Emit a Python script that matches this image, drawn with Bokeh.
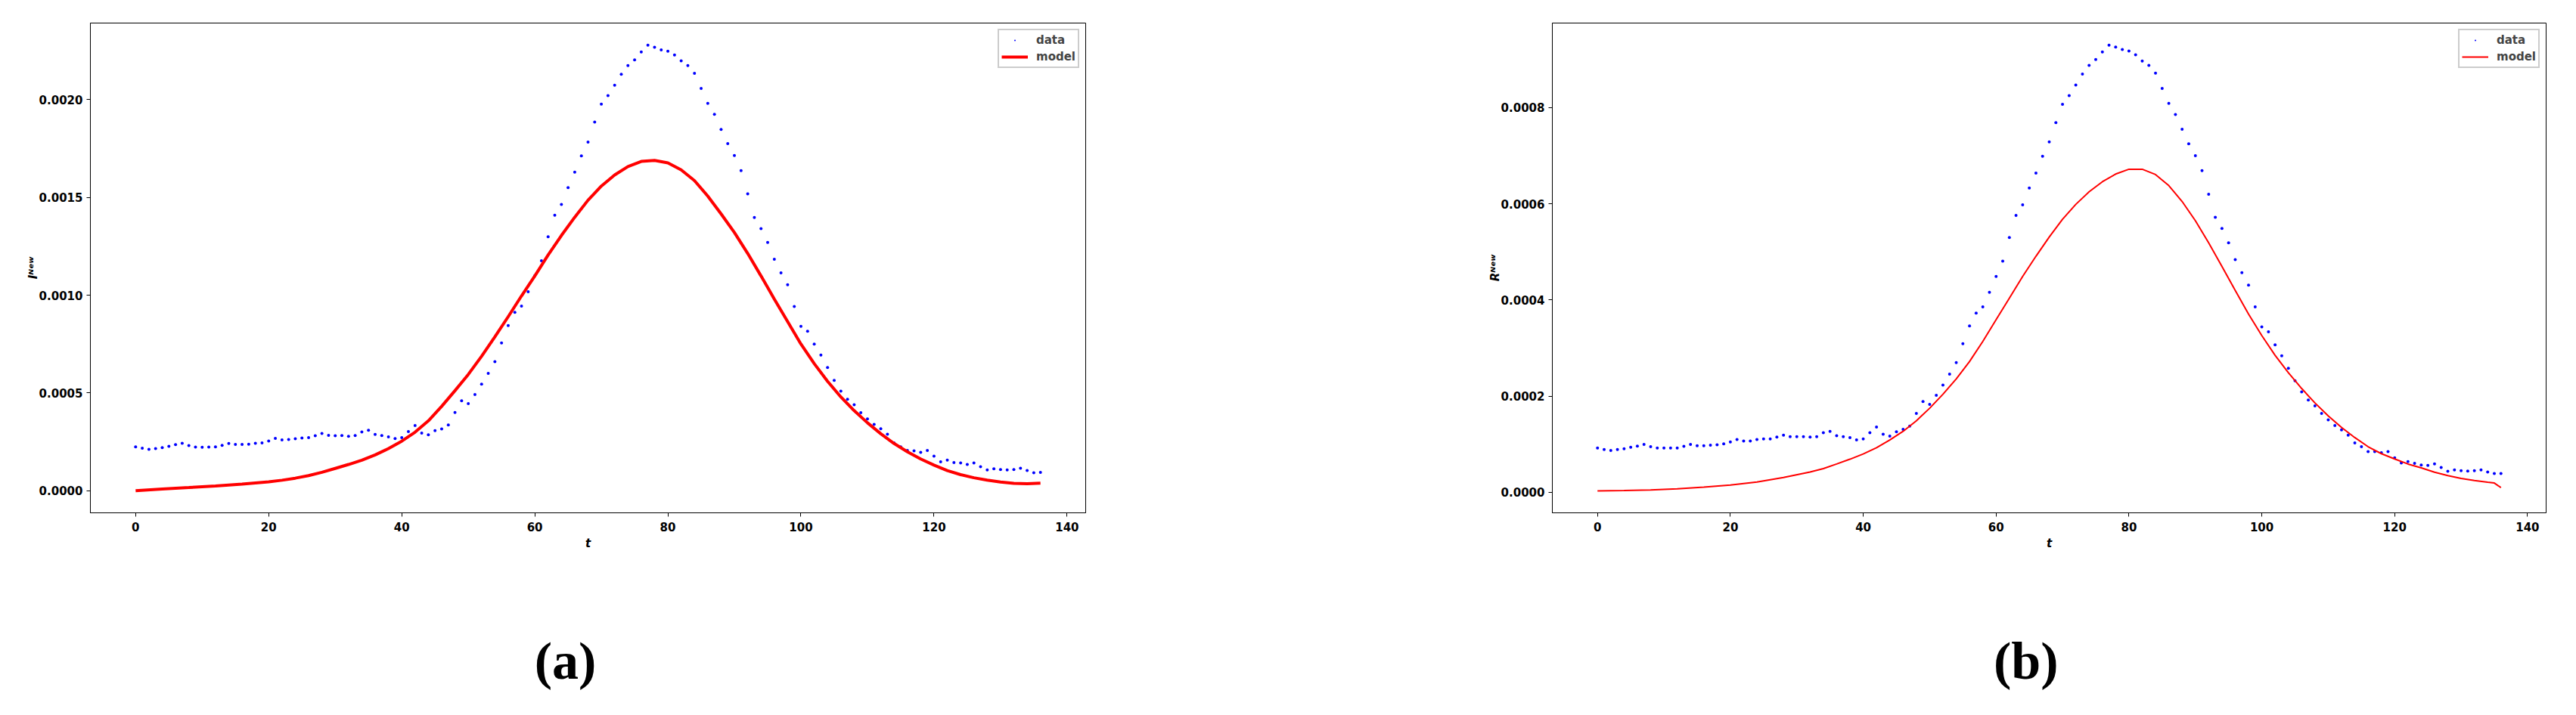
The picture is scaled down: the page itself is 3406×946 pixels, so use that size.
from bokeh.plotting import figure
from bokeh.models import (Range1d, FixedTicker, PrintfTickFormatter,
                          Legend, LegendItem)
from bokeh.layouts import row, column
from bokeh.core.properties import value
from bokeh.embed import file_html
from bokeh.resources import INLINE

# ---------------- data ----------------
t_days = list(range(137))

I_data = [
    0.000225, 0.000218, 0.000212, 0.000216, 0.000221, 0.000228, 0.000236, 0.000243, 0.000232, 0.000224,
    0.000223, 0.000224, 0.000225, 0.000233, 0.000242, 0.000237, 0.000237, 0.000238, 0.000243, 0.000245,
    0.000255, 0.000268, 0.000261, 0.000263, 0.000266, 0.000270, 0.000272, 0.000282, 0.000293, 0.000284,
    0.000282, 0.000283, 0.000279, 0.000283, 0.000301, 0.000310, 0.000289, 0.000283, 0.000276, 0.000267,
    0.000272, 0.000303, 0.000334, 0.000295, 0.000287, 0.000308, 0.000317, 0.000337, 0.000401, 0.000460,
    0.000446, 0.000492, 0.000545, 0.000600, 0.000660, 0.000756, 0.000845, 0.000912, 0.000944, 0.001017,
    0.001099, 0.001176, 0.001298, 0.001408, 0.001463, 0.001549, 0.001628, 0.001711, 0.001782, 0.001884,
    0.001976, 0.002019, 0.002072, 0.002128, 0.002173, 0.002202, 0.002242, 0.002277, 0.002266, 0.002253,
    0.002246, 0.002227, 0.002197, 0.002173, 0.002133, 0.002056, 0.001980, 0.001924, 0.001847, 0.001774,
    0.001713, 0.001636, 0.001517, 0.001397, 0.001340, 0.001269, 0.001183, 0.001114, 0.001053, 0.000942,
    0.000841, 0.000816, 0.000750, 0.000694, 0.000630, 0.000565, 0.000510, 0.000468, 0.000440, 0.000400,
    0.000368, 0.000340, 0.000318, 0.000290, 0.000245, 0.000225, 0.000207, 0.000205, 0.000197, 0.000207,
    0.000178, 0.000149, 0.000157, 0.000145, 0.000143, 0.000135, 0.000143, 0.000124, 0.000107, 0.000113,
    0.000109, 0.000107, 0.000109, 0.000116, 0.000104, 0.000093, 0.000095,
]

R_data = [
    0.0000923, 0.0000891, 0.0000870, 0.0000891, 0.0000907, 0.0000938, 0.0000964, 0.0000996, 0.0000949, 0.0000923,
    0.0000923, 0.0000923, 0.0000923, 0.0000959, 0.0000996, 0.0000970, 0.0000970, 0.0000980, 0.0000991, 0.000101,
    0.000105, 0.000110, 0.000107, 0.000107, 0.000110, 0.000111, 0.000111, 0.000115, 0.000119, 0.000116,
    0.000116, 0.000116, 0.000115, 0.000116, 0.000124, 0.000127, 0.000118, 0.000116, 0.000114, 0.000109,
    0.000111, 0.000124, 0.000136, 0.000121, 0.000117, 0.000126, 0.000131, 0.000138, 0.000164, 0.000189,
    0.000183, 0.000202, 0.000223, 0.000246, 0.000270, 0.000309, 0.000346, 0.000373, 0.000386, 0.000416,
    0.000449, 0.000481, 0.000530, 0.000576, 0.000598, 0.000633, 0.000664, 0.000699, 0.000729, 0.000769,
    0.000807, 0.000825, 0.000847, 0.000870, 0.000888, 0.000900, 0.000916, 0.000930, 0.000926, 0.000921,
    0.000918, 0.000910, 0.000897, 0.000888, 0.000872, 0.000840, 0.000809, 0.000786, 0.000755, 0.000725,
    0.000700, 0.000669, 0.000620, 0.000572, 0.000549, 0.000519, 0.000484, 0.000457, 0.000431, 0.000386,
    0.000344, 0.000334, 0.000307, 0.000284, 0.000258, 0.000232, 0.000209, 0.000192, 0.000180, 0.000164,
    0.000151, 0.000139, 0.000130, 0.000119, 0.000103, 0.0000950, 0.0000849, 0.0000849, 0.0000823, 0.0000849,
    0.0000718, 0.0000613, 0.0000639, 0.0000603, 0.0000571, 0.0000561, 0.0000592, 0.0000519, 0.0000440, 0.0000467,
    0.0000451, 0.0000445, 0.0000451, 0.0000467, 0.0000425, 0.0000393, 0.0000393,
]

I_model_t = [0, 4, 8, 12, 16, 20, 22, 24, 26, 28, 30, 32, 34, 36, 38, 40, 42, 44, 46, 48, 50, 52,
             54, 56, 58, 60, 62, 64, 66, 68, 70, 72, 74, 76, 78, 80, 82, 84, 86, 88, 90, 92, 94,
             96, 98, 100, 102, 104, 106, 108, 110, 112, 114, 116, 118, 120, 122, 124, 126, 128,
             130, 132, 134, 136]
I_model = [0.0000010, 0.0000100, 0.0000170, 0.0000255, 0.0000350, 0.0000460, 0.0000545, 0.0000650,
           0.0000780, 0.0000950, 0.000115, 0.000135, 0.000157, 0.000184, 0.000216, 0.000254,
           0.000300, 0.000358, 0.000432, 0.000512, 0.000595, 0.000688, 0.000787, 0.000890,
           0.000996, 0.001098, 0.001205, 0.001305, 0.001398, 0.001485, 0.001557, 0.001614,
           0.001657, 0.001683, 0.001688, 0.001676, 0.001640, 0.001585, 0.001506, 0.001415,
           0.001320, 0.001213, 0.001098, 0.000980, 0.000865, 0.000750, 0.000650, 0.000560,
           0.000480, 0.000410, 0.000348, 0.000292, 0.000242, 0.000200, 0.000163, 0.000132,
           0.000104, 0.0000830, 0.0000670, 0.0000550, 0.0000455, 0.0000385, 0.0000370, 0.0000399]

R_model_t = [0, 4, 8, 12, 16, 20, 24, 28, 32, 34, 36, 38, 40, 42, 44, 46, 48, 50, 52, 54, 56, 58,
             60, 62, 64, 66, 68, 70, 72, 74, 76, 78, 80, 82, 84, 86, 88, 90, 92, 94, 96, 98, 100,
             102, 104, 106, 108, 110, 112, 114, 116, 118, 120, 122, 124, 126, 128, 130, 132, 134,
             135, 136]
R_model = [0.0000030, 0.0000038, 0.0000052, 0.0000075, 0.0000110, 0.0000152, 0.0000215, 0.0000310,
           0.0000425, 0.0000495, 0.0000590, 0.0000690, 0.0000800, 0.0000930, 0.000109, 0.000127,
           0.000149, 0.000175, 0.000204, 0.000236, 0.000272, 0.000314, 0.000359, 0.000404,
           0.000449, 0.000491, 0.000531, 0.000568, 0.000599, 0.000625, 0.000646, 0.000662,
           0.000672, 0.000672, 0.000661, 0.000638, 0.000605, 0.000565, 0.000519, 0.000470,
           0.000420, 0.000371, 0.000326, 0.000285, 0.000249, 0.000216, 0.000186, 0.000159,
           0.000135, 0.000114, 0.0000950, 0.0000805, 0.0000695, 0.0000590, 0.0000510, 0.0000420,
           0.0000350, 0.0000290, 0.0000247, 0.0000210, 0.0000194, 0.0000099]

x_ticks = [0, 20, 40, 60, 80, 100, 120, 140]
I_ticks = [0.0, 0.0005, 0.0010, 0.0015, 0.0020]
R_ticks = [0.0, 0.0002, 0.0004, 0.0006, 0.0008]
panel_names = ["(a)", "(b)"]

TICK_FONT = "DejaVu Sans"
MAIN_H = 778
CAP_H = 152


def make_panel(width, border_left, border_right, y_lo, y_hi, y_ticks, ylabel,
               data, model_t, model, model_width):
    p = figure(width=width, height=MAIN_H, output_backend="svg", toolbar_location=None,
               x_range=Range1d(-6.8, 142.8), y_range=Range1d(y_lo, y_hi),
               min_border_left=border_left, min_border_right=border_right,
               min_border_top=30, min_border_bottom=MAIN_H - 30 - 648)
    p.background_fill_color = "white"
    p.border_fill_color = "white"
    p.outline_line_color = "black"
    p.outline_line_width = 1
    p.xgrid.visible = False
    p.ygrid.visible = False

    p.xaxis.ticker = FixedTicker(ticks=x_ticks)
    p.yaxis.ticker = FixedTicker(ticks=y_ticks)
    p.yaxis.formatter = PrintfTickFormatter(format="%.4f")
    for ax in (p.xaxis[0], p.yaxis[0]):
        ax.minor_tick_line_color = None
        ax.major_tick_in = 0
        ax.major_tick_out = 5
        ax.axis_line_color = "black"
        ax.major_tick_line_color = "black"
        ax.major_label_text_font = TICK_FONT
        ax.major_label_text_font_size = "15px"
        ax.major_label_text_font_style = "bold"
        ax.major_label_text_color = "black"
        ax.axis_label_text_font = TICK_FONT
        ax.axis_label_text_font_size = "15px"
        ax.axis_label_text_font_style = "bold italic"
        ax.axis_label_text_color = "black"
    p.xaxis.major_label_standoff = 7
    p.xaxis.axis_label = "t"
    p.xaxis.axis_label_standoff = 4
    p.yaxis.major_label_standoff = 5
    p.yaxis.axis_label = ylabel
    p.yaxis.axis_label_standoff = -4

    r_data = p.scatter(t_days, data, marker="dot", size=16,
                       line_color="#0000ff", fill_color="#0000ff")
    r_model = p.line(model_t, model, line_color="#ff0000", line_width=model_width)

    legend = Legend(items=[LegendItem(label="data", renderers=[r_data]),
                           LegendItem(label="model", renderers=[r_model])],
                    location="top_right")
    legend.margin = 8
    legend.padding = 3
    legend.spacing = 2
    legend.glyph_width = 35
    legend.glyph_height = 20
    legend.label_height = 20
    legend.label_standoff = 11
    legend.label_text_font = TICK_FONT
    legend.label_text_font_size = "15px"
    legend.label_text_font_style = "bold"
    legend.border_line_color = "#cccccc"
    legend.border_line_width = 2
    legend.border_line_alpha = 1.0
    legend.background_fill_color = "white"
    legend.background_fill_alpha = 1.0
    p.add_layout(legend)
    return p


def make_caption(main, width, name, cx):
    # the caption panel shares the x range of the chart above it (frames are aligned)
    c = figure(width=width, height=CAP_H, output_backend="svg", toolbar_location=None,
               x_range=main.x_range, y_range=Range1d(0, CAP_H),
               x_axis_location=None, y_axis_location=None, min_border=0)
    c.outline_line_color = None
    c.xgrid.visible = False
    c.ygrid.visible = False
    c.background_fill_color = "white"
    c.border_fill_color = "white"
    c.text(x=[cx], y=[CAP_H - 96], text=[name], text_align="center",
           text_baseline="middle", text_font=value("Liberation Serif"),
           text_font_size=value("70px"), text_font_style="bold", text_color="black")
    return c


pa = make_panel(1692, 119, 257, -0.000112, 0.00239, I_ticks, "Iᴺᵉʷ",
                I_data, I_model_t, I_model, 4)
pb = make_panel(1698, 360, 24, -0.0000425, 0.000976, R_ticks, "Rᴺᵉʷ",
                R_data, R_model_t, R_model, 2)
ca = make_caption(pa, 1692, panel_names[0], 64.6)
cb = make_caption(pb, 1698, panel_names[1], 64.5)

layout = row(column(pa, ca), column(pb, cb))
open("out.html", "w").write(file_html(layout, INLINE))
